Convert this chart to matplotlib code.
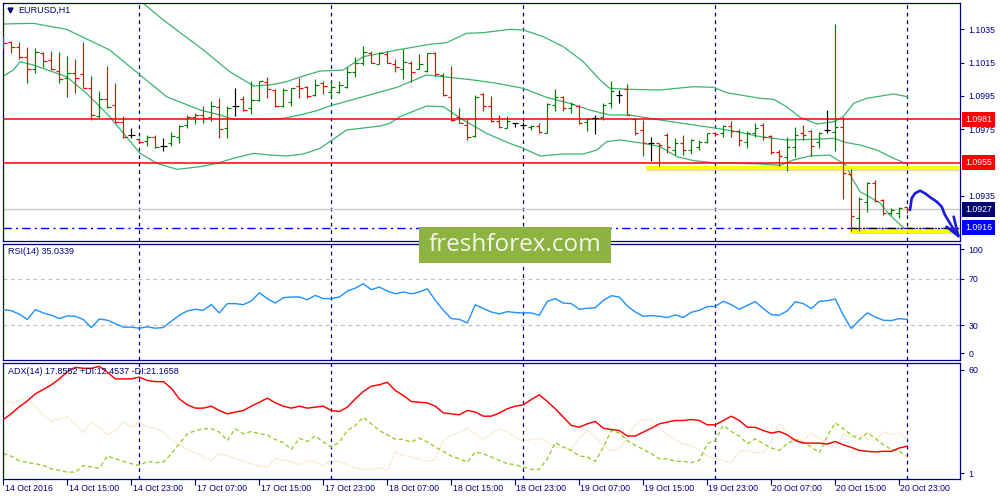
import matplotlib
matplotlib.use('Agg')
import matplotlib.pyplot as plt
from matplotlib.transforms import blended_transform_factory
from matplotlib.patches import Rectangle

plt.rcParams['font.family'] = ['Liberation Sans', 'DejaVu Sans']

# EURUSD H1 bars, bar 0 = 14 Oct 2016 07:00
open_ = [1.10301, 1.10275, 1.10245, 1.10181, 1.10111, 1.10209, 1.10165, 1.10099, 1.10055, 1.10085,
         1.10081, 1.09995, 1.09829, 1.09929, 1.09895, 1.09795, 1.09715, 1.09689, 1.09679, 1.09705,
         1.09651, 1.09665, 1.09701, 1.09775, 1.09825, 1.09835, 1.09825, 1.09885, 1.09759, 1.09889,
         1.09929, 1.09875, 1.09925, 1.10035, 1.09985, 1.09889, 1.09915, 1.10009, 1.10001, 1.09955,
         1.10025, 1.09975, 1.09975, 1.10005, 1.10095, 1.10145, 1.10205, 1.10141, 1.10201, 1.10139,
         1.10109, 1.10149, 1.10109, 1.10101, 1.10209, 1.10075, 1.09945, 1.09825, 1.09775, 1.09709,
         1.09959, 1.09889, 1.09801, 1.09755, 1.09785, 1.09775, 1.09761, 1.09769, 1.09725, 1.09895,
         1.09941, 1.09875, 1.09889, 1.09795, 1.09815, 1.09825, 1.09905, 1.09955, 1.09989, 1.09810,
         1.09745, 1.09669, 1.09665, 1.09715, 1.09625, 1.09669, 1.09625, 1.09645, 1.09675, 1.09729,
         1.09725, 1.09769, 1.09741, 1.09675, 1.09725, 1.09775, 1.09709, 1.09615, 1.09585, 1.09645,
         1.09729, 1.09741, 1.09675, 1.09745, 1.09735, 1.09765, 1.09481, 1.09215, 1.09315, 1.09429,
         1.09325, 1.09245, 1.09245, 1.09281]
high = [1.10309, 1.10279, 1.10271, 1.10245, 1.10239, 1.10215, 1.10221, 1.10211, 1.10189, 1.10169,
        1.10275, 1.10069, 1.09981, 1.10129, 1.10029, 1.09829, 1.09759, 1.09695, 1.09715, 1.09715,
        1.09699, 1.09735, 1.09775, 1.09835, 1.09845, 1.09889, 1.09921, 1.09935, 1.09889, 1.09999,
        1.09949, 1.10039, 1.10041, 1.10065, 1.09989, 1.09995, 1.09999, 1.10059, 1.10009, 1.10049,
        1.10039, 1.10039, 1.10039, 1.10125, 1.10181, 1.10249, 1.10219, 1.10215, 1.10221, 1.10169,
        1.10229, 1.10159, 1.10201, 1.10209, 1.10211, 1.10089, 1.10129, 1.09875, 1.09815, 1.09955,
        1.09965, 1.09949, 1.09835, 1.09829, 1.09789, 1.09795, 1.09775, 1.09785, 1.09905, 1.09989,
        1.09949, 1.09915, 1.09895, 1.09815, 1.09835, 1.09905, 1.10041, 1.09985, 1.10021, 1.09815,
        1.09805, 1.09705, 1.09669, 1.09725, 1.09695, 1.09715, 1.09689, 1.09685, 1.09729, 1.09735,
        1.09775, 1.09801, 1.09749, 1.09739, 1.09785, 1.09785, 1.09715, 1.09625, 1.09705, 1.09765,
        1.09775, 1.09745, 1.09735, 1.09865, 1.10381, 1.09825, 1.09509, 1.09341, 1.09435, 1.09445,
        1.09329, 1.09275, 1.09285, 1.09285]
low = [1.10229, 1.10209, 1.10169, 1.10025, 1.10085, 1.10125, 1.10105, 1.10025, 1.09945, 1.09965,
       1.09995, 1.09805, 1.09815, 1.09875, 1.09785, 1.09695, 1.09695, 1.09669, 1.09649, 1.09635,
       1.09621, 1.09651, 1.09669, 1.09755, 1.09781, 1.09785, 1.09801, 1.09699, 1.09699, 1.09829,
       1.09861, 1.09841, 1.09921, 1.09935, 1.09885, 1.09885, 1.09889, 1.09939, 1.09939, 1.09951,
       1.09961, 1.09945, 1.09965, 1.09995, 1.10065, 1.10135, 1.10145, 1.10139, 1.10145, 1.10095,
       1.10049, 1.10035, 1.10109, 1.10095, 1.10069, 1.09949, 1.09801, 1.09785, 1.09685, 1.09701,
       1.09861, 1.09795, 1.09759, 1.09755, 1.09761, 1.09749, 1.09745, 1.09725, 1.09725, 1.09861,
       1.09861, 1.09845, 1.09781, 1.09741, 1.09721, 1.09805, 1.09875, 1.09905, 1.09835, 1.09715,
       1.09589, 1.09561, 1.09529, 1.09609, 1.09595, 1.09595, 1.09601, 1.09625, 1.09669, 1.09715,
       1.09701, 1.09701, 1.09651, 1.09635, 1.09701, 1.09685, 1.09601, 1.09529, 1.09501, 1.09581,
       1.09685, 1.09589, 1.09639, 1.09729, 1.09621, 1.09329, 1.09141, 1.09141, 1.09255, 1.09315,
       1.09235, 1.09235, 1.09215, 1.09249]
close = [1.10269, 1.10241, 1.10185, 1.10111, 1.10215, 1.10161, 1.10111, 1.10049, 1.10089, 1.10055,
         1.09995, 1.09835, 1.09929, 1.09885, 1.09795, 1.09701, 1.09715, 1.09675, 1.09701, 1.09645,
         1.09651, 1.09709, 1.09769, 1.09825, 1.09835, 1.09819, 1.09889, 1.09749, 1.09875, 1.09889,
         1.09865, 1.09925, 1.10039, 1.09989, 1.09889, 1.09985, 1.09995, 1.09995, 1.09951, 1.10015,
         1.10009, 1.10001, 1.10015, 1.10095, 1.10145, 1.10215, 1.10149, 1.10205, 1.10149, 1.10125,
         1.10155, 1.10095, 1.10141, 1.10205, 1.10081, 1.09955, 1.09805, 1.09789, 1.09705, 1.09945,
         1.09889, 1.09801, 1.09761, 1.09801, 1.09785, 1.09775, 1.09769, 1.09731, 1.09901, 1.09945,
         1.09875, 1.09899, 1.09785, 1.09809, 1.09815, 1.09895, 1.09981, 1.09955, 1.09835, 1.09730,
         1.09665, 1.09669, 1.09653, 1.09640, 1.09665, 1.09625, 1.09685, 1.09675, 1.09725, 1.09721,
         1.09769, 1.09741, 1.09685, 1.09729, 1.09755, 1.09705, 1.09615, 1.09589, 1.09645, 1.09715,
         1.09715, 1.09649, 1.09729, 1.09745, 1.09761, 1.09485, 1.09229, 1.09329, 1.09429, 1.09321,
         1.09245, 1.09265, 1.09275, 1.09270]

# Bollinger bands (20), read at points along each band
bb_up_x = [0, 3.75, 7.9, 13.3, 17.5, 20, 25, 28.3, 31.3, 33.3, 35.4, 37.5, 39.6, 40.8, 42.5, 45,
           49.2, 53.3, 55.4, 57.9, 60, 63.3, 65, 67.5, 70, 72.5, 74.6, 75.8, 78.3, 82.1, 86.3,
           88.8, 90.4, 94.6, 96.3, 97.9, 99.6, 101.7, 103.8, 105, 106.3, 107.9, 111.3, 113]
bb_up_y = [1.10693, 1.10635, 1.10633, 1.10625, 1.10505, 1.10405, 1.10225, 1.10095, 1.10009,
           1.10015, 1.10035, 1.10069, 1.10099, 1.10101, 1.10105, 1.10185, 1.10225, 1.10259,
           1.10269, 1.10325, 1.10329, 1.10349, 1.10345, 1.10305, 1.10245, 1.10155, 1.10045,
           1.09995, 1.09989, 1.09985, 1.10005, 1.10001, 1.09969, 1.09935, 1.09929, 1.09885,
           1.09821, 1.09781, 1.09795, 1.09825, 1.09905, 1.09935, 1.09961, 1.09945]
bb_mid_x = [0, 3.75, 7.9, 13.3, 17.1, 20.4, 24.6, 27.1, 28.75, 32.9, 35, 37.1, 39.2, 40.8, 45,
            49.2, 52.9, 54.2, 58.75, 61.7, 65, 67.9, 70.8, 73.3, 75.8, 78.3, 82.1, 86.3, 89.2,
            91.7, 94.6, 97.9, 101.25, 103.8, 105.4, 107.1, 109.2, 111.3, 113]
bb_mid_y = [1.10381, 1.10385, 1.10349, 1.10225, 1.10075, 1.09945, 1.09865, 1.09835, 1.09809,
            1.09809, 1.09815, 1.09835, 1.09861, 1.09889, 1.09945, 1.10001, 1.10075, 1.10069,
            1.10045, 1.10025, 1.09995, 1.09941, 1.09905, 1.09865, 1.09835, 1.09835, 1.09805,
            1.09775, 1.09755, 1.09735, 1.09705, 1.09685, 1.09689, 1.09695, 1.09669, 1.09655,
            1.09625, 1.09575, 1.09541]
bb_low_x = [0, 1.25, 2.1, 3.75, 7.9, 10.4, 13.3, 17.1, 19.2, 21.7, 24.6, 26.7, 28.75, 31.3, 33.3,
            35.4, 37.5, 39.6, 40.8, 42.9, 47.1, 48.3, 49.6, 52.9, 55, 57.5, 60.4, 63.3, 65, 67.1,
            70, 72.5, 74.2, 75.4, 77.1, 80, 82.1, 84.2, 86.3, 88.8, 94.6, 97.1, 98.75, 100.8,
            103.3, 105.3, 106.1, 107.1, 109.6, 110.8, 112.7, 113]
bb_low_y = [1.10069, 1.10105, 1.10155, 1.10135, 1.10065, 1.09965, 1.09825, 1.09605, 1.09545,
            1.09509, 1.09525, 1.09545, 1.09575, 1.09605, 1.09595, 1.09589, 1.09601, 1.09635,
            1.09675, 1.09745, 1.09769, 1.09785, 1.09825, 1.09889, 1.09885, 1.09805, 1.09725,
            1.09665, 1.09635, 1.09589, 1.09601, 1.09601, 1.09625, 1.09675, 1.09685, 1.09665,
            1.09645, 1.09585, 1.09561, 1.09549, 1.09541, 1.09533, 1.09565, 1.09589, 1.09595,
            1.09535, 1.09455, 1.09375, 1.09307, 1.09235, 1.09151, 1.09145]

rsi = [43.4, 42.5, 39.5, 35.0, 43.4, 40.6, 38.6, 35.7, 38.0, 37.7,
       34.9, 28.0, 35.4, 34.3, 31.4, 28.3, 28.3, 27.4, 28.6, 27.4,
       28.0, 33.4, 38.6, 42.3, 43.7, 42.9, 47.7, 40.6, 48.6, 48.6,
       47.7, 50.9, 58.0, 52.9, 49.1, 53.7, 54.3, 54.3, 52.0, 55.7,
       52.9, 52.9, 54.3, 59.4, 62.0, 65.7, 60.6, 62.9, 59.4, 57.1,
       58.6, 57.1, 58.6, 61.4, 51.4, 42.9, 35.7, 35.1, 32.0, 47.7,
       44.3, 41.4, 39.7, 41.7, 40.9, 40.6, 40.6, 38.6, 50.6, 52.9,
       49.1, 48.6, 43.7, 44.6, 45.1, 51.4, 55.4, 54.3, 46.6, 41.4,
       37.7, 38.3, 37.7, 36.6, 38.9, 36.6, 41.1, 42.9, 46.0, 46.3,
       50.6, 47.7, 43.7, 47.1, 50.3, 44.3, 39.1, 38.6, 42.3, 50.3,
       48.6, 44.3, 50.6, 51.1, 52.6, 38.6, 27.1, 34.3, 40.6, 37.1,
       34.3, 34.0, 35.7, 35.0]
adx = [31.5, 34.5, 38.0, 41.0, 44.6, 46.8, 49.2, 52.2, 55.9, 58.1,
       57.6, 57.6, 58.6, 55.6, 52.2, 52.2, 52.2, 53.1, 51.4, 50.8,
       50.8, 47.5, 42.0, 39.0, 37.3, 37.3, 38.3, 36.1, 34.4, 35.3,
       36.1, 38.3, 40.3, 42.4, 40.0, 38.3, 37.3, 38.3, 37.3, 37.8,
       38.3, 36.1, 35.6, 37.8, 42.0, 45.8, 48.5, 49.2, 50.5, 46.3,
       43.7, 40.7, 40.3, 40.0, 38.3, 34.9, 34.4, 33.9, 36.1, 35.3,
       33.2, 33.2, 34.8, 37.0, 38.3, 39.0, 41.7, 44.1, 40.7, 37.0,
       32.7, 28.5, 27.6, 29.3, 30.5, 27.1, 26.4, 25.9, 23.1, 23.1,
       25.1, 27.1, 29.3, 30.2, 31.0, 31.0, 31.5, 31.0, 28.8, 28.8,
       31.0, 33.2, 31.0, 27.6, 27.5, 25.9, 24.6, 25.4, 23.7, 20.8,
       19.5, 19.5, 19.5, 19.0, 20.3, 18.6, 17.3, 15.8, 15.3, 15.0,
       15.3, 15.3, 17.0, 17.9]
plus_di = [14.1, 12.8, 10.5, 9.6, 9.0, 8.1, 6.4, 5.6, 4.7, 4.7,
           8.1, 7.3, 6.8, 12.9, 11.5, 10.2, 9.0, 8.1, 10.2, 9.5,
           9.8, 14.1, 19.2, 24.2, 25.9, 26.8, 26.8, 25.1, 20.8, 26.8,
           24.2, 25.4, 24.2, 23.7, 21.4, 19.7, 16.3, 22.0, 20.3, 23.1,
           20.0, 17.5, 20.0, 25.9, 28.5, 32.7, 29.3, 25.9, 23.7, 21.4,
           21.4, 20.0, 22.0, 20.0, 17.5, 15.3, 12.9, 11.5, 9.8, 14.9,
           14.1, 12.4, 10.7, 9.0, 8.5, 7.3, 6.1, 6.1, 11.5, 19.7,
           17.5, 15.8, 12.9, 12.4, 10.2, 17.5, 25.9, 24.7, 20.8, 18.3,
           16.3, 14.1, 11.5, 11.5, 10.2, 10.2, 9.5, 10.7, 19.2, 20.8,
           28.5, 25.4, 23.1, 19.2, 21.7, 19.2, 17.0, 15.8, 19.2, 21.4,
           20.0, 17.5, 14.6, 23.1, 29.8, 26.8, 23.7, 21.4, 24.7, 22.0,
           18.6, 16.3, 15.3, 12.5]
minus_di = [41.2, 40.0, 41.5, 42.9, 37.8, 33.6, 30.5, 31.9, 32.7, 29.3,
            24.7, 30.2, 27.6, 23.7, 25.9, 30.5, 27.6, 30.5, 27.6, 27.1,
            25.1, 21.4, 18.3, 16.3, 14.6, 12.4, 10.7, 14.1, 13.2, 11.5,
            10.2, 9.0, 7.8, 7.3, 11.5, 10.7, 9.8, 8.5, 10.7, 9.8,
            7.8, 10.7, 10.2, 8.5, 6.8, 6.1, 6.1, 6.8, 5.6, 14.9,
            13.2, 12.4, 11.2, 10.2, 11.2, 20.8, 23.4, 25.1, 27.1, 24.2,
            21.4, 24.2, 26.8, 25.1, 22.5, 20.0, 21.4, 22.0, 20.0, 17.5,
            17.0, 16.3, 22.0, 25.9, 22.5, 18.3, 15.8, 16.3, 23.1, 28.8,
            31.5, 31.0, 26.8, 23.7, 20.8, 19.2, 18.0, 15.8, 12.9, 11.5,
            10.7, 9.5, 15.3, 15.8, 14.6, 14.6, 20.0, 29.3, 25.1, 21.7,
            20.8, 24.7, 21.7, 19.7, 17.0, 24.2, 22.5, 24.2, 21.7, 20.3,
            25.4, 23.7, 24.7, 21.2]

time_ticks = list(range(0, 113, 8))
time_labels = ['14 Oct 2016', '14 Oct 15:00', '14 Oct 23:00', '17 Oct 07:00', '17 Oct 15:00',
               '17 Oct 23:00', '18 Oct 07:00', '18 Oct 15:00', '18 Oct 23:00', '19 Oct 07:00',
               '19 Oct 15:00', '19 Oct 23:00', '20 Oct 07:00', '20 Oct 15:00', '20 Oct 23:00']
day_starts = [17, 41, 65, 89, 113]
price_ticks = [1.1035, 1.1015, 1.0995, 1.0975, 1.0935]

# levels and hand drawn marks
red_levels = [1.0981, 1.0955]
bid = 1.0927
blue_level = 1.0916
yellow_lines = [(80.3, 1.09519), (105.8, 1.09139)]  # start bar, price
arrow_x = [113.34, 113.55, 113.96, 114.59, 115.21, 116.05, 116.68, 117.3, 117.71, 118.34, 118.96, 119.38]
arrow_y = [1.09265, 1.09335, 1.09365, 1.09381, 1.09365, 1.09335, 1.09315, 1.09285, 1.09235,
           1.09185, 1.09135, 1.09109]
arrow_head = [(118.8, 1.09225), (117.9, 1.09165)]

navy = '#000080'
XMIN, XMAX = -0.04, 119.59


def box(x0, y0, x1, y1):
    return [x0 / 1000, 1 - y1 / 500, (x1 - x0) / 1000, (y1 - y0) / 500]


fig = plt.figure(figsize=(10, 5), dpi=100)
ax_p = fig.add_axes(box(3, 3, 960, 241))
ax_r = fig.add_axes(box(3, 244, 960, 360))
ax_a = fig.add_axes(box(3, 363, 960, 479))

for ax in (ax_p, ax_r, ax_a):
    ax.set_xlim(XMIN, XMAX)
    for s in ax.spines.values():
        s.set_color(navy)
        s.set_linewidth(0.9)
    for b in day_starts:
        ax.axvline(b, color=navy, lw=0.9, ls=(0, (3, 3)), zorder=1)
    ax.yaxis.tick_right()
    ax.tick_params(axis='y', colors=navy, labelsize=6.3, length=3, width=0.8, pad=3)
    ax.tick_params(axis='x', length=0, labelbottom=False)

# ---- main price window
xs = list(range(len(close)))
cols = []
for o, c in zip(open_, close):
    if c > o:
        cols.append('#008000')
    elif c < o:
        cols.append('#ff0000')
    else:
        cols.append('black')

ax_p.plot(bb_up_x, bb_up_y, color='#3cb371', lw=0.9, zorder=2)
ax_p.plot(bb_mid_x, bb_mid_y, color='#3cb371', lw=0.9, zorder=2)
ax_p.plot(bb_low_x, bb_low_y, color='#3cb371', lw=0.9, zorder=2)

for lvl in red_levels:
    ax_p.axhline(lvl, color='#ff0000', lw=1.1, zorder=3)
ax_p.axhline(bid, color='#c8c8c8', lw=1, zorder=2)
ax_p.axhline(blue_level, color='#0000ff', lw=1, ls=(0, (6, 3, 1.5, 3)), zorder=3)

for x0, y in yellow_lines:
    ax_p.plot([x0, XMAX], [y - 0.00007, y - 0.00007], color='#b0b0b0', lw=3, alpha=0.5,
              solid_capstyle='butt', zorder=3)
    ax_p.plot([x0, XMAX], [y, y], color='#ffff00', lw=3, solid_capstyle='butt', zorder=3)
# the dash-dot level shows dark where it crosses the lower yellow line
ax_p.plot([yellow_lines[1][0], XMAX], [blue_level, blue_level], color='black', lw=1,
          ls=(0, (6, 3, 1.5, 3)), zorder=3.5)

ax_p.vlines(xs, low, high, colors=cols, lw=0.85, zorder=4)
ax_p.hlines(open_, [x - 0.4 for x in xs], xs, colors=cols, lw=0.85, zorder=4)
ax_p.hlines(close, xs, [x + 0.4 for x in xs], colors=cols, lw=0.85, zorder=4)

ax_p.plot(arrow_x, arrow_y, color='#1818e0', lw=1.9, solid_capstyle='round',
          solid_joinstyle='round', zorder=6)
for hx, hy in arrow_head:
    ax_p.plot([arrow_x[-1], hx], [arrow_y[-1], hy], color='#1818e0', lw=1.9,
              solid_capstyle='round', zorder=6)

ax_p.set_ylim(1.09079, 1.10507)
ax_p.set_yticks(price_ticks)
ax_p.set_yticklabels(['%.4f' % v for v in price_ticks])

trans = blended_transform_factory(ax_p.transAxes, ax_p.transData)
for val, fc in [(1.0981, '#ff0000'), (1.0955, '#ff0000'), (1.0927, '#000070'), (1.0916, '#0000ff')]:
    ax_p.text(1.0052, val, '%.4f' % val, transform=trans, ha='left', va='center', color='white',
              fontsize=6.3, clip_on=False, zorder=10,
              bbox=dict(boxstyle='square,pad=0.35', fc=fc, ec='none'))

ax_p.plot([0.0068], [0.97], marker='v', ms=3.5, color=navy, transform=ax_p.transAxes, clip_on=False)
ax_p.text(0.0157, 0.97, 'EURUSD,H1', transform=ax_p.transAxes, ha='left', va='center',
          fontsize=6.5, color=navy)

# ---- RSI window
ax_r.plot(xs, rsi, color='#1e90ff', lw=1, zorder=3)
for lvl in (70, 30):
    ax_r.axhline(lvl, color='#c0c0c0', lw=0.9, ls=(0, (3, 3)), zorder=1)
ax_r.set_ylim(0, 100)
ax_r.set_yticks([95.4, 70, 30, 5.8])
ax_r.set_yticklabels(['100', '70', '30', '0'])
ax_r.text(0.0052, 0.935, 'RSI(14) 35.0339', transform=ax_r.transAxes, ha='left', va='center',
          fontsize=6.5, color=navy)

# ---- ADX window
ax_a.plot(xs, minus_di, color='#f5deb3', lw=1, ls=(0, (1, 1)), zorder=2)
ax_a.plot(xs, plus_di, color='#9acd32', lw=1, ls=(0, (3, 2)), zorder=2)
ax_a.plot(xs, adx, color='#ff0000', lw=1.05, zorder=3)
ax_a.set_ylim(1.2, 60.3)
ax_a.set_yticks([56.8, 4.25])
ax_a.set_yticklabels(['60', '1'])
ax_a.text(0.0052, 0.931, 'ADX(14) 17.8552 +DI:12.4537 -DI:21.1658', transform=ax_a.transAxes,
          ha='left', va='center', fontsize=6.5, color=navy)

ax_a.set_xticks(time_ticks)
ax_a.tick_params(axis='x', length=4, width=0.8, color=navy, direction='out')
tb = blended_transform_factory(ax_a.transData, ax_a.transAxes)
for t, lab in zip(time_ticks, time_labels):
    ax_a.text(t + 0.15, -0.084, lab, transform=tb, ha='left', va='center', fontsize=6.3,
              color=navy, clip_on=False)

# watermark
fig.patches.append(Rectangle((419 / 1000, 1 - 263 / 500), 192 / 1000, 36 / 500,
                             transform=fig.transFigure, fc='#8db340', ec='none', zorder=20))
fig.text(515 / 1000, 1 - 245 / 500, 'freshforex.com', ha='center', va='center', fontsize=17.5,
         family=['Open Sans', 'DejaVu Sans'], color='#f4f7ec', zorder=21)

fig.savefig('out.png', dpi=100, facecolor='white')
